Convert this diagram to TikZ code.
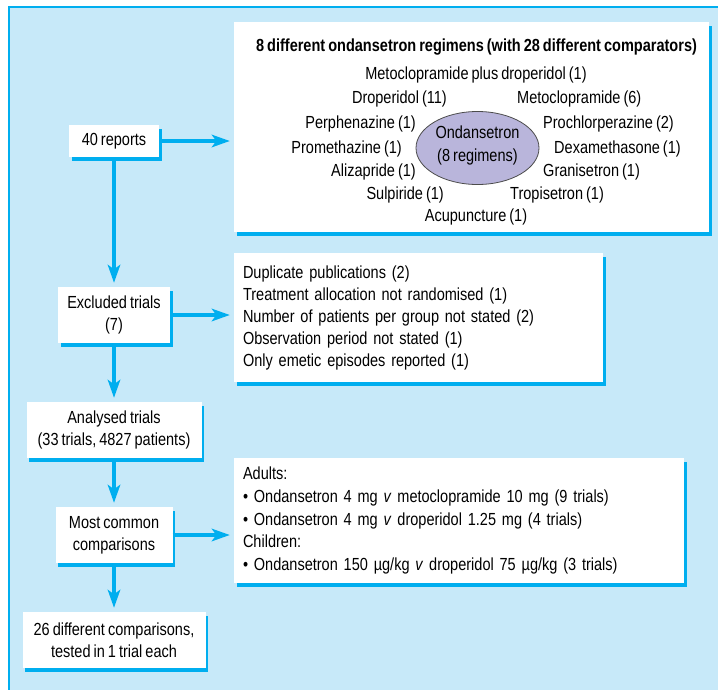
\documentclass[tikz,border=0pt]{standalone}
\usepackage{fontspec}
\setmainfont{Liberation Sans}[FakeStretch=0.83, WordSpace=0.75]
\usetikzlibrary{arrows.meta,shapes.geometric,shadows}
\definecolor{bblue}{RGB}{0,174,239}
\definecolor{bgblue}{RGB}{199,233,249}
\definecolor{lav}{RGB}{185,181,219}
\begin{document}
\begin{tikzpicture}[x=1pt,y=-1pt,
  txt/.style={font=\fontsize{17.5}{22}\selectfont, inner sep=0pt},
  wbox/.style={txt, fill=white, align=center,
    drop shadow={opacity=1, fill=bblue, shadow xshift=2.5pt, shadow yshift=-4pt}},
  lbox/.style={wbox, align=left, inner xsep=9pt},
  arr/.style={draw=bblue, line width=3.2pt,
    -{Stealth[length=18pt, width=12.5pt, inset=4.5pt]}, shorten >=4pt},
  lab/.style={txt, anchor=base}]
\useasboundingbox (0,0) rectangle (718,689);
\clip (0,0) rectangle (718,689);
\fill[white] (0,0) rectangle (718,689);
\path[fill=bgblue, draw=bblue, line width=1.3pt] (9,7) rectangle (760,740);

% left column
\node[wbox, minimum width=90pt, minimum height=32pt] (r40) at (114,141) {40 reports};
\node[wbox, minimum width=112pt, minimum height=56pt] (excl) at (114,315) {Excluded trials\\(7)};
\node[wbox, minimum width=175pt, minimum height=56pt] (anal) at (114,430) {Analysed trials\\(33 trials, 4827 patients)};
\node[wbox, minimum width=117pt, minimum height=56pt] (most) at (114,535) {Most common\\comparisons};
\node[wbox, minimum width=183pt, minimum height=56pt] (diff) at (114,640) {26 different comparisons,\\tested in 1 trial each};

% top box
\node[wbox, minimum width=475pt, minimum height=210pt] (top) at (471.5,127) {};
\node[lab, font=\fontsize{17.5}{22}\selectfont\bfseries] (title) at (476.5,51) {8 different ondansetron regimens (with 28 different comparators)};
\node[shape=ellipse, fill=lav, draw=black!70, line width=0.8pt, minimum width=123pt, minimum height=73pt, inner sep=0pt] (ond) at (477.5,148) {};
\node[lab] (ond1) at (477.5,138) {Ondansetron};
\node[lab] (ond2) at (477.5,161) {(8 regimens)};
\node[lab] (mpd) at (476,79) {Metoclopramide plus droperidol (1)};
\node[lab, anchor=base east] (dro) at (447,103) {Droperidol (11)};
\node[lab, anchor=base west] (met) at (517,103) {Metoclopramide (6)};
\node[lab, anchor=base east] (per) at (416,128) {Perphenazine (1)};
\node[lab, anchor=base west] (pro) at (543,128) {Prochlorperazine (2)};
\node[lab, anchor=base east] (prm) at (402,153) {Promethazine (1)};
\node[lab, anchor=base west] (dex) at (554,153) {Dexamethasone (1)};
\node[lab, anchor=base east] (ali) at (416,176) {Alizapride (1)};
\node[lab, anchor=base west] (gra) at (543,176) {Granisetron (1)};
\node[lab, anchor=base east] (sul) at (444,199) {Sulpiride (1)};
\node[lab, anchor=base west] (tro) at (510,199) {Tropisetron (1)};
\node[lab] (acu) at (476,221) {Acupuncture (1)};

% excluded reasons
\node[lbox, minimum width=369pt, minimum height=129pt, text width=351pt] (dup) at (418.5,317.5) {Duplicate publications (2)\\
Treatment allocation not randomised (1)\\
Number of patients per group not stated (2)\\
Observation period not stated (1)\\
Only emetic episodes reported (1)};

% comparisons
\node[lbox, minimum width=450pt, minimum height=125pt, text width=432pt, font=\fontsize{17.5}{22.7}\selectfont] (adu) at (459,520.5) {Adults:\\
• Ondansetron 4 mg \textit{v} metoclopramide 10 mg (9 trials)\\
• Ondansetron 4 mg \textit{v} droperidol 1.25 mg (4 trials)\\
Children:\\
• Ondansetron 150 µg/kg \textit{v} droperidol 75 µg/kg (3 trials)};

% connectors
\draw[arr] (r40) -- (excl);
\draw[arr] (excl) -- (anal);
\draw[arr] (anal) -- (most);
\draw[arr] (most) -- (diff);
\draw[arr] (r40.east) -- (r40.east -| top.west);
\draw[arr] (excl.east) -- (excl.east -| dup.west);
\draw[arr] (most.east) -- (most.east -| adu.west);
\end{tikzpicture}
\end{document}
